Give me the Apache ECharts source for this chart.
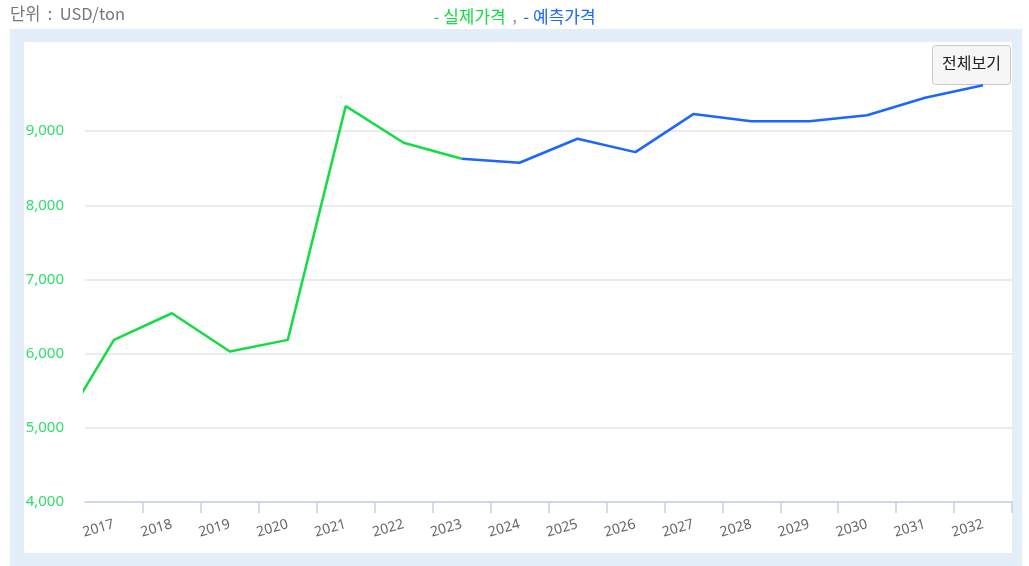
<!DOCTYPE html>
<html>
<head>
<meta charset="utf-8">
<script src="https://cdn.jsdelivr.net/npm/echarts@6/dist/echarts.min.js"></script>
<style>
  html, body { margin: 0; padding: 0; background: #fff; }
  #price { width: 1029px; height: 566px; }
</style>
</head>
<body>
<div id="price"></div>
<script>
// years on the x axis (2016 sits just left of the zoomed view)
var years = ['2016', '2017', '2018', '2019', '2020', '2021', '2022', '2023', '2024',
    '2025', '2026', '2027', '2028', '2029', '2030', '2031', '2032'];
// 실제가격 (actual), USD/ton
var actual = [4890, 6186, 6545, 6029, 6186, 9337, 8844, 8628, null,
    null, null, null, null, null, null, null, null];
// 예측가격 (forecast), starts at the last actual point
var forecast = [null, null, null, null, null, null, null, 8628, 8574,
    8898, 8717, 9230, 9135, 9135, 9215, 9450, 9619];
var yTicks = { min: 4000, max: 10000, step: 1000 };

var fontKr = "'Noto Sans CJK KR', 'Noto Sans', sans-serif";
var green = '#14dc45';
var blue = '#1a66ff';

function chart() {
    var dom = document.getElementById('price');
    var myChart = echarts.init(dom);
    var option = {
        animation: false,
        textStyle: { fontFamily: fontKr },
        title: {
            text: '{g|- 실제가격}{c|  ,  }{b|- 예측가격}',
            left: 'center',
            top: 3,
            textStyle: {
                fontWeight: 'normal',
                rich: {
                    g: { color: green, fontSize: 17, fontWeight: 'normal', fontFamily: fontKr },
                    c: { color: '#888', fontSize: 15, fontWeight: 'normal', fontFamily: fontKr },
                    b: { color: blue, fontSize: 17, fontWeight: 'normal', fontFamily: fontKr }
                }
            }
        },
        graphic: [
            { type: 'rect', z: -10, silent: true,
              shape: { x: 10, y: 29, width: 1012, height: 537 },
              style: { fill: '#e3eef9' } },
            { type: 'rect', z: -9, silent: true,
              shape: { x: 24, y: 42, width: 988, height: 511 },
              style: { fill: '#ffffff' } },
            { type: 'text', left: 10, top: 5,
              style: { text: '단위  :  USD/ton', fill: '#777', font: '16.5px ' + fontKr } },
            { type: 'group', left: 932, top: 45, z: 20, children: [
                { type: 'rect', shape: { x: 0, y: 0, width: 78, height: 39, r: 3 },
                  style: { fill: '#f6f6f6', stroke: '#c8c8c8', lineWidth: 1 } },
                { type: 'text', x: 39, y: 17,
                  style: { text: '전체보기', fill: '#222', font: '16px ' + fontKr,
                           align: 'center', verticalAlign: 'middle' } }
            ] }
        ],
        grid: { left: 85, right: 17, top: 57, bottom: 64 },
        dataZoom: [{
            type: 'inside',
            xAxisIndex: 0,
            startValue: 1,
            endValue: years.length - 1,
            filterMode: 'none',
            zoomLock: true
        }],
        xAxis: {
            type: 'category',
            data: years,
            boundaryGap: true,
            axisLine: { lineStyle: { color: '#c4d2e6', width: 1.5 } },
            axisTick: {
                show: true,
                length: 11,
                interval: function (i) { return i !== 1; },
                lineStyle: { color: '#c4d2e6', width: 1.5 }
            },
            axisLabel: {
                rotate: 16,
                margin: 22,
                color: '#666',
                fontSize: 14,
                fontFamily: "'Noto Sans', sans-serif"
            }
        },
        yAxis: {
            type: 'value',
            min: yTicks.min,
            max: yTicks.max,
            interval: yTicks.step,
            axisLine: { show: false },
            axisTick: { show: false },
            axisLabel: {
                showMaxLabel: false,
                margin: 21,
                color: '#2ee06a',
                fontSize: 15,
                fontFamily: "'Noto Sans', sans-serif",
                formatter: function (v) { return v.toLocaleString('en-US'); }
            },
            splitLine: { showMaxLine: false, lineStyle: { color: '#e4e4e4', width: 1.5 } }
        },
        series: [{
            name: '실제가격',
            type: 'line',
            data: actual,
            showSymbol: false,
            lineStyle: { color: green, width: 2.5 },
            itemStyle: { color: green },
            z: 3
        }, {
            name: '예측가격',
            type: 'line',
            data: forecast,
            showSymbol: false,
            lineStyle: { color: blue, width: 2.5 },
            itemStyle: { color: blue },
            z: 2
        }]
    };
    myChart.setOption(option, true);
}
chart();
</script>
</body>
</html>
